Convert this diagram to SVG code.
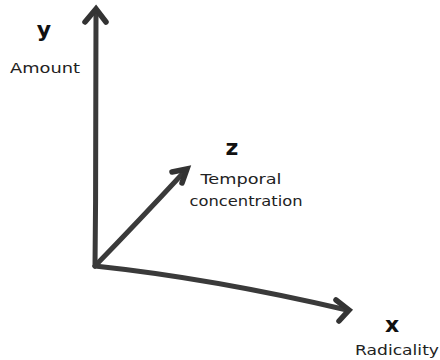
<svg xmlns="http://www.w3.org/2000/svg" width="440" height="360" viewBox="0 0 440 360">
<defs>
<style>
.ax{fill:none;stroke:#3a3a3a;stroke-width:5;stroke-linecap:round;stroke-linejoin:round}
.hd{fill:none;stroke:#333;stroke-width:5.5;stroke-linecap:round;stroke-linejoin:miter}
.big{font-family:"DejaVu Sans",sans-serif;font-size:22px;font-weight:bold;fill:#111;text-anchor:middle}
.lab{font-family:"DejaVu Sans",sans-serif;font-size:14.5px;fill:#222;text-anchor:middle}
</style>
</defs>
<rect width="440" height="360" fill="#fff"/>
<g id="connectors">
<path class="ax" d="M95,266 C96,180 96,90 96,12"/>
<path class="hd" d="M85,22 L96,9 L106,22"/>
<path class="ax" d="M95,266 C180,275 270,292 347,310"/>
<path class="hd" d="M336,300 L349,310 L339,321"/>
<path class="ax" d="M95,266 C130,230 160,198 185,171"/>
<path class="hd" d="M172,172 L187,169 L182,183"/>
</g>
<g id="node-y"><text class="big" x="44" y="37">y</text><text class="lab" x="45" y="73" textLength="70" lengthAdjust="spacingAndGlyphs">Amount</text></g>
<g id="node-z"><text class="big" x="232" y="155">z</text><text class="lab" x="241" y="184" textLength="81" lengthAdjust="spacingAndGlyphs">Temporal</text><text class="lab" x="246" y="206" textLength="113" lengthAdjust="spacingAndGlyphs">concentration</text></g>
<g id="node-x"><text class="big" x="392" y="332">x</text><text class="lab" x="397" y="355" textLength="84" lengthAdjust="spacingAndGlyphs">Radicality</text></g>
</svg>
